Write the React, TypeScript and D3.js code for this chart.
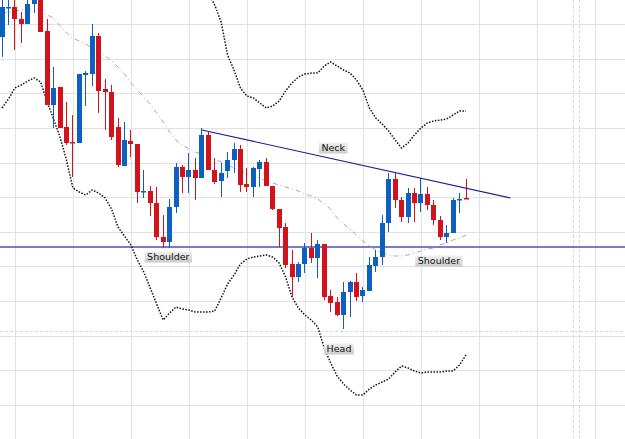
import { useEffect, useRef } from "react"
import * as d3 from "d3"

const WIDTH = 625
const HEIGHT = 439

// candles, one per period (price units)
const opens = [463, 492, 493, 481, 476, 496, 503, 469, 395, 413, 373, 358, 357, 425, 426, 464, 411, 408, 373, 334, 359, 356, 308, 309, 297, 263, 258, 293, 333, 323, 330, 322, 365, 330, 319, 329, 340, 351, 316, 313, 331, 338, 314, 291, 273, 236, 223, 236, 252, 242, 256, 204, 198, 185, 208, 218, 204, 209, 234, 243, 277, 321, 300, 283, 307, 297, 306, 295, 280, 263, 267, 300, 302]
const highs = [505, 505, 503, 488, 500, 506, 506, 481, 433, 413, 398, 385, 426, 429, 476, 467, 421, 415, 382, 378, 370, 356, 330, 314, 313, 285, 301, 337, 335, 347, 342, 372, 368, 342, 337, 348, 357, 355, 332, 333, 340, 342, 314, 291, 277, 250, 238, 257, 267, 260, 256, 210, 203, 218, 219, 227, 213, 243, 250, 285, 327, 327, 303, 312, 312, 322, 313, 300, 284, 275, 302, 307, 321]
const lows = [443, 475, 450, 457, 476, 487, 468, 395, 372, 372, 355, 323, 357, 394, 414, 387, 370, 360, 333, 334, 343, 297, 302, 284, 260, 252, 252, 287, 307, 307, 300, 322, 330, 316, 303, 322, 327, 308, 308, 303, 313, 314, 290, 253, 232, 203, 218, 227, 237, 222, 200, 188, 184, 171, 183, 199, 198, 209, 228, 235, 268, 292, 278, 277, 278, 288, 290, 275, 260, 257, 267, 287, 301]
const closes = [493, 493, 481, 476, 496, 503, 468, 395, 412, 372, 357, 357, 426, 427, 464, 409, 408, 363, 335, 360, 356, 308, 309, 297, 263, 258, 293, 333, 323, 330, 322, 365, 330, 318, 327, 340, 351, 315, 313, 332, 338, 314, 291, 272, 235, 223, 236, 252, 242, 256, 203, 197, 185, 208, 218, 203, 210, 235, 243, 277, 321, 300, 283, 307, 297, 306, 295, 280, 263, 267, 300, 301, 301]

// indicators
const movingAvg = [487, 488, 489, 490, 491, 491, 489, 485, 482, 474, 467, 462, 459, 456, 452, 449, 444, 439, 433, 426, 417, 410, 403, 396, 387, 378, 368, 360, 355, 351, 348, 346, 343, 341, 338, 335, 332, 329, 327, 324, 322, 319, 317, 315, 313, 311, 309, 306, 304, 301, 296, 291, 282, 276, 271, 265, 259, 254, 250, 247, 245, 244, 244, 245, 247, 249, 251, 252, 255, 257, 260, 262, 265]
const upperBandStart = 29
const upperBand = [560, 540, 525, 508, 495, 478, 445, 430, 412, 404, 402, 397, 392, 394, 399, 409, 417, 423, 426, 427, 427, 434, 438, 434, 430, 427, 420, 410, 392, 382, 376, 369, 360, 352, 357, 365, 372, 377, 379, 380, 381, 385, 389, 389]
const lowerBand = [392, 401, 412, 415, 419, 422, 418, 398, 381, 363, 340, 312, 308, 305, 310, 307, 302, 291, 273, 264, 255, 240, 228, 212, 196, 180, 187, 193, 191, 190, 188, 188, 188, 189, 202, 216, 225, 236, 241, 243, 244, 245, 243, 237, 223, 203, 192, 185, 180, 173, 152, 137, 124, 116, 110, 105, 105, 111, 115, 118, 121, 128, 134, 132, 129, 127, 128, 128, 128, 129, 129, 135, 145]

// drawn objects
const supportPrice = 253
const neckIdx = [31, 78.9]
const neckPrice = [370, 302]
const dashedPrice = 169
const dashedIdx = [88.6, 89.5]
const labelTexts = ["Neck", "Shoulder", "Head", "Shoulder"]
const labelIdx = [51.4, 25.8, 52.3, 67.8]
const labelPrice = [352, 243, 151, 239]

// grid
const gridPrices = d3.range(12).map((k) => 476 - 34.64 * k)
const gridIdx = d3.range(2, 100, 9)

export default function App() {
    const svgRef = useRef<SVGSVGElement | null>(null)

    useEffect(() => {
        if (!svgRef.current) return
        const svg = d3.select(svgRef.current)
        svg.selectAll("*").remove()

        const xScale = d3.scaleLinear().domain([0, 72]).range([2, 466])
        const yScale = d3.scaleLinear().domain([61, 500]).range([HEIGHT, 0])
        const crisp = (v: number) => Math.round(v) + 0.5

        const defs = svg.append("defs")
        defs.append("clipPath").attr("id", "clip").append("rect").attr("width", WIDTH).attr("height", HEIGHT)
        const grad = defs.append("linearGradient").attr("id", "lblGrad").attr("x1", 0).attr("x2", 0).attr("y1", 0).attr("y2", 1)
        grad.append("stop").attr("offset", "0%").attr("stop-color", "#f0f0f0")
        grad.append("stop").attr("offset", "100%").attr("stop-color", "#cbcbcb")

        svg.append("rect").attr("width", WIDTH).attr("height", HEIGHT).attr("fill", "#fff")
        const g = svg.append("g").attr("clip-path", "url(#clip)")

        // grid
        g.selectAll("line.hgrid")
            .data(gridPrices)
            .enter()
            .append("line")
            .attr("x1", 0)
            .attr("x2", WIDTH)
            .attr("y1", (d) => crisp(yScale(d)))
            .attr("y2", (d) => crisp(yScale(d)))
            .attr("stroke", "#e2e2e2")

        g.selectAll("line.vgrid")
            .data(gridIdx)
            .enter()
            .append("line")
            .attr("x1", (d) => crisp(xScale(d)))
            .attr("x2", (d) => crisp(xScale(d)))
            .attr("y1", 0)
            .attr("y2", HEIGHT)
            .attr("stroke", "#e2e2e2")

        g.append("line")
            .attr("x1", 0)
            .attr("x2", WIDTH)
            .attr("y1", crisp(yScale(dashedPrice)))
            .attr("y2", crisp(yScale(dashedPrice)))
            .attr("stroke", "#d8d8d8")
            .attr("stroke-dasharray", "3 2")

        g.selectAll("line.vdash")
            .data(dashedIdx)
            .enter()
            .append("line")
            .attr("x1", (d) => crisp(xScale(d)))
            .attr("x2", (d) => crisp(xScale(d)))
            .attr("y1", 0)
            .attr("y2", HEIGHT)
            .attr("stroke", "#d8d8d8")
            .attr("stroke-dasharray", "3 2")

        // support line
        g.append("line")
            .attr("x1", 0)
            .attr("x2", WIDTH)
            .attr("y1", yScale(supportPrice))
            .attr("y2", yScale(supportPrice))
            .attr("stroke", "#4b4bc8")
            .attr("stroke-width", 1.5)

        // bands
        const bandLine = d3
            .line<[number, number]>()
            .x((d) => xScale(d[0]))
            .y((d) => yScale(d[1]))

        g.append("path")
            .datum(lowerBand.map((v, i) => [i, v] as [number, number]))
            .attr("fill", "none")
            .attr("stroke", "#111")
            .attr("stroke-width", 1.5)
            .attr("stroke-dasharray", "1.5 1.5")
            .attr("d", bandLine)

        g.append("path")
            .datum(upperBand.map((v, i) => [i + upperBandStart, v] as [number, number]))
            .attr("fill", "none")
            .attr("stroke", "#111")
            .attr("stroke-width", 1.5)
            .attr("stroke-dasharray", "1.5 1.5")
            .attr("d", bandLine)

        g.append("path")
            .datum(movingAvg.map((v, i) => [i, v] as [number, number]))
            .attr("fill", "none")
            .attr("stroke", "#a9a9a9")
            .attr("stroke-width", 1)
            .attr("stroke-dasharray", "5 3 1 3")
            .attr("d", bandLine)

        // candles
        const red = "#d4121b"
        const blue = "#0d60c0"
        const candles = g
            .selectAll("g.candle")
            .data(opens.map((o, i) => ({ i, o, h: highs[i], l: lows[i], c: closes[i] })))
            .enter()
            .append("g")
            .attr("fill", (d) => (d.c > d.o ? blue : red))
            .attr("stroke", (d) => (d.c > d.o ? blue : red))

        candles
            .append("line")
            .attr("x1", (d) => Math.round(xScale(d.i) - 2.5) + 2.5)
            .attr("x2", (d) => Math.round(xScale(d.i) - 2.5) + 2.5)
            .attr("y1", (d) => yScale(d.h))
            .attr("y2", (d) => yScale(d.l))
            .attr("stroke-width", 1)

        candles
            .append("rect")
            .attr("x", (d) => Math.round(xScale(d.i) - 2.5))
            .attr("width", 5)
            .attr("y", (d) => yScale(Math.max(d.o, d.c)))
            .attr("height", (d) => Math.max(1.5, Math.abs(yScale(d.o) - yScale(d.c))))
            .attr("stroke", "none")

        // neckline
        g.append("line")
            .attr("x1", xScale(neckIdx[0]))
            .attr("x2", xScale(neckIdx[1]))
            .attr("y1", yScale(neckPrice[0]))
            .attr("y2", yScale(neckPrice[1]))
            .attr("stroke", "#1d1d98")
            .attr("stroke-width", 1.2)

        // labels
        labelTexts.forEach((t, k) => {
            const cx = xScale(labelIdx[k])
            const cy = yScale(labelPrice[k])
            const lg = g.append("g")
            const txt = lg
                .append("text")
                .attr("x", cx)
                .attr("y", cy + 3.3)
                .attr("text-anchor", "middle")
                .attr("font-family", "DejaVu Sans, sans-serif")
                .attr("font-size", "9.5px")
                .attr("fill", "#111")
                .text(t)
            const w = (txt.node() as SVGTextElement).getComputedTextLength() + 5
            lg.insert("rect", "text")
                .attr("x", cx - w / 2)
                .attr("y", cy - 5.5)
                .attr("width", w)
                .attr("height", 11)
                .attr("fill", "url(#lblGrad)")
        })
    }, [])

    return (
        <div style={{ position: "fixed", left: 0, top: 0 }}>
            <svg ref={svgRef} width={WIDTH} height={HEIGHT} style={{ display: "block" }} />
        </div>
    )
}
